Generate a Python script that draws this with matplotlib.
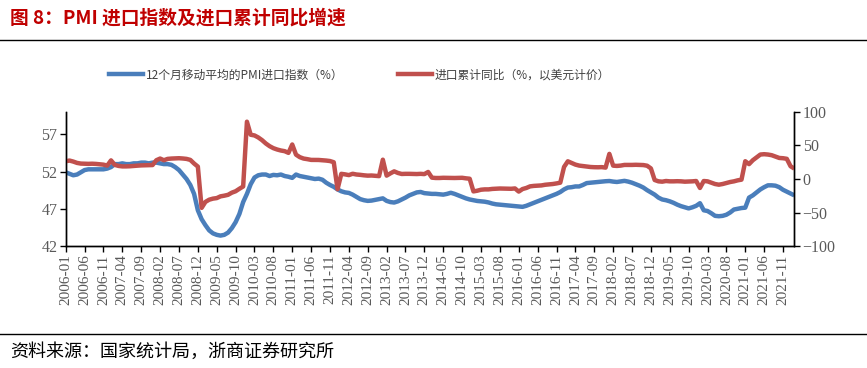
import numpy as np
import pandas as pd
import matplotlib
matplotlib.use("Agg")
import matplotlib.pyplot as plt
from matplotlib.lines import Line2D

plt.rcParams["font.family"] = ["Noto Sans CJK SC", "DejaVu Sans"]

# =============================================
# DATA
# =============================================
months = pd.period_range("2006-01", "2022-02", freq="M").strftime("%Y-%m").tolist()

# 12个月移动平均的PMI进口指数 (left axis)
pmi_import_ma12 = [
    51.9, 51.7, 51.5, 51.6, 51.9, 52.2, 52.3, 52.3, 52.3, 52.3, 52.3, 52.4,   # 2006
    52.6, 53.0, 53.0, 53.1, 53.0, 53.0, 53.1, 53.1, 53.2, 53.2, 53.1, 53.2,   # 2007
    53.2, 53.1, 53.0, 53.0, 52.9, 52.6, 52.2, 51.6, 51.0, 50.2, 49.0, 46.8,   # 2008
    45.6, 44.8, 44.1, 43.7, 43.5, 43.4, 43.5, 43.8, 44.4, 45.2, 46.3, 47.9,   # 2009
    49.0, 50.3, 51.2, 51.5, 51.6, 51.6, 51.4, 51.55, 51.5, 51.6, 51.4, 51.3,  # 2010
    51.15, 51.6, 51.4, 51.3, 51.2, 51.1, 51.0, 51.05, 50.9, 50.5, 50.2, 49.95,  # 2011
    49.6, 49.35, 49.2, 49.13, 48.9, 48.6, 48.3, 48.15, 48.06, 48.1, 48.2, 48.3,  # 2012
    48.4, 48.06, 47.9, 47.84, 48.0, 48.25, 48.5, 48.8, 49.0, 49.2, 49.26, 49.1,  # 2013
    49.05, 49.0, 49.0, 48.95, 48.9, 49.0, 49.15, 49.0, 48.8, 48.6, 48.4, 48.25,  # 2014
    48.15, 48.05, 48.0, 47.95, 47.85, 47.7, 47.6, 47.55, 47.5, 47.45, 47.4, 47.35,  # 2015
    47.3, 47.26, 47.4, 47.6, 47.8, 48.0, 48.2, 48.4, 48.6, 48.8, 49.0, 49.25,  # 2016
    49.6, 49.85, 49.9, 50.0, 50.0, 50.2, 50.45, 50.5, 50.55, 50.6, 50.65, 50.7,  # 2017
    50.73, 50.65, 50.6, 50.68, 50.75, 50.65, 50.5, 50.3, 50.1, 49.85, 49.5, 49.2,  # 2018
    48.9, 48.5, 48.25, 48.15, 48.0, 47.8, 47.55, 47.35, 47.2, 47.05, 47.2, 47.4,  # 2019
    47.75, 46.8, 46.7, 46.4, 46.05, 46.0, 46.05, 46.2, 46.5, 46.9, 47.0, 47.1,  # 2020
    47.15, 48.5, 48.8, 49.2, 49.6, 49.9, 50.15, 50.15, 50.1, 49.9, 49.55, 49.3,  # 2021
    49.05, 48.8,                                                               # 2022
]

# 进口累计同比 (%, 以美元计价) (right axis)
import_cum_yoy = [
    26.5, 27.5, 26.0, 24.0, 23.0, 22.8, 22.6, 22.8, 22.5, 22.0, 21.4, 20.0,   # 2006
    27.8, 21.0, 19.5, 18.8, 18.8, 19.0, 19.5, 19.9, 20.3, 20.5, 20.7, 20.8,   # 2007
    28.0, 30.5, 28.0, 30.0, 30.5, 30.8, 31.0, 30.6, 30.0, 28.5, 23.1, 18.5,   # 2008
    -43.1, -34.2, -30.9, -29.3, -28.5, -25.9, -24.9, -23.6, -20.4, -18.3, -14.6, -11.2,  # 2009
    85.5, 66.0, 65.0, 62.0, 58.0, 53.0, 49.0, 46.0, 44.0, 42.5, 41.5, 39.0,   # 2010
    51.5, 36.3, 32.6, 30.5, 29.6, 28.5, 28.5, 28.4, 28.0, 27.5, 26.8, 25.0,   # 2011
    -15.3, 7.7, 6.9, 5.8, 7.8, 6.7, 6.2, 5.5, 5.0, 5.2, 4.8, 4.3,             # 2012
    28.8, 5.0, 8.4, 11.4, 9.0, 7.5, 7.7, 7.7, 7.5, 7.4, 7.7, 7.3,             # 2013
    10.5, 2.0, 1.5, 1.5, 1.8, 1.7, 1.7, 1.5, 1.6, 1.8, 1.0, 0.4,              # 2014
    -18.5, -17.5, -16.0, -15.5, -15.5, -14.8, -14.5, -14.2, -14.3, -14.5, -14.6, -14.1,  # 2015
    -18.8, -15.0, -13.4, -11.0, -10.3, -10.0, -9.6, -8.6, -8.0, -7.5, -6.6, -5.5,  # 2016
    18.0, 26.4, 24.0, 21.5, 20.0, 19.3, 18.5, 17.9, 17.6, 17.5, 17.7, 17.0,   # 2017
    37.5, 19.9, 19.5, 20.0, 21.0, 21.0, 21.0, 21.2, 21.0, 20.8, 19.8, 15.8,   # 2018
    -1.5, -3.5, -4.0, -3.0, -3.5, -3.5, -3.3, -3.5, -4.0, -3.8, -3.5, -3.0,   # 2019
    -13.4, -3.0, -3.5, -5.5, -7.5, -8.5, -7.5, -6.0, -4.5, -3.5, -2.0, -1.0,  # 2020
    26.5, 22.2, 28.0, 32.2, 36.5, 37.0, 36.5, 35.5, 33.5, 31.4, 31.0, 30.1,   # 2021
    19.0, 15.5,                                                               # 2022
]

left_ticks = [42, 47, 52, 57]
right_ticks = [-100, -50, 0, 50, 100]

BLUE = "#4A7EBB"
RED = "#C0504D"
TICK_COLOR = "#595959"
TITLE_COLOR = "#C00000"

# =============================================
# FIGURE
# =============================================
fig = plt.figure(figsize=(8.67, 3.68), dpi=100)
ax = fig.add_axes([0.0758, 0.3315, 0.8404, 0.3642])
ax2 = ax.twinx()

x = np.arange(len(months))
ax.plot(x, pmi_import_ma12, color=BLUE, lw=3.2, solid_capstyle="butt")
ax2.plot(x, import_cum_yoy, color=RED, lw=3.2, solid_capstyle="butt")

ax.set_xlim(0, len(months) - 1)
ax.set_ylim(42, 60)
ax.set_yticks(left_ticks)
ax2.set_ylim(-100, 100)
ax2.set_yticks(right_ticks)

tick_pos = x[::5]
ax.set_xticks(tick_pos)
ax.set_xticklabels([months[i] for i in tick_pos], rotation=90)

for a in (ax, ax2):
    a.spines["top"].set_visible(False)
    for s in ("left", "right", "bottom"):
        a.spines[s].set_color("#000000")
        a.spines[s].set_linewidth(1.0)
    a.tick_params(direction="out", length=4, width=1, color="#000000",
                  labelcolor=TICK_COLOR, labelfontfamily="Liberation Serif",
                  labelsize=11.5, pad=2)
ax.tick_params(axis="x", labelsize=11, pad=2)

# legend
handles = [Line2D([], [], color=BLUE, lw=3.2),
           Line2D([], [], color=RED, lw=3.2)]
labels = ["12个月移动平均的PMI进口指数（%）", "进口累计同比（%，以美元计价）"]
fig.legend(handles, labels, loc="center left", bbox_to_anchor=(0.113, 0.796),
           ncol=2, frameon=False, fontsize=8.5, handlelength=2.9,
           handletextpad=0.25, columnspacing=4.6, labelcolor="#404040")

# title, rules and source
fig.text(0.012, 0.952, "图 8：PMI 进口指数及进口累计同比增速", color=TITLE_COLOR,
         fontsize=13.5, fontweight="bold", va="center", ha="left")
fig.add_artist(Line2D([0, 1], [0.892, 0.892], color="#000000", lw=1.0))
fig.add_artist(Line2D([0, 1], [0.092, 0.092], color="#000000", lw=1.0))
fig.text(0.012, 0.043, "资料来源：国家统计局，浙商证券研究所", color="#000000",
         fontsize=13, va="center", ha="left")

fig.savefig("out.png", dpi=100, facecolor="white")
plt.close(fig)
